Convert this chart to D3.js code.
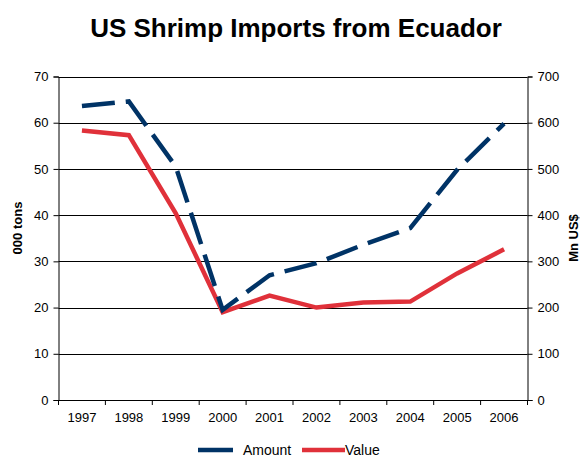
<!DOCTYPE html>
<html>
<head>
<meta charset="utf-8">
<title>US Shrimp Imports from Ecuador</title>
<style>
body { margin: 0; background: #fff; }
svg text { font-family: "Liberation Sans", Arial, sans-serif; fill: #000; }
</style>
</head>
<body>
<svg width="580" height="457"></svg>
<script src="https://d3js.org/d3.v7.min.js"></script>
<script>
var years = ["1997", "1998", "1999", "2000", "2001", "2002", "2003", "2004", "2005", "2006"];
var amount = [63.6, 64.6, 50.5, 19.5, 27.0, 29.6, 33.6, 37.2, 49.8, 59.8];   // 000 tons
var value = [583, 573, 404, 190, 226, 200, 211, 213, 274, 326];            // Mn US$
var leftTicks = [0, 10, 20, 30, 40, 50, 60, 70];
var rightTicks = [0, 100, 200, 300, 400, 500, 600, 700];

var svg = d3.select("svg");
var plotLeft = 58.5, plotRight = 527.5, plotTop = 76.5, plotBottom = 400;

var x = d3.scaleBand().domain(years).range([plotLeft, plotRight]);
var yL = d3.scaleLinear().domain([0, 70]).range([plotBottom, plotTop]);
var yR = d3.scaleLinear().domain([0, 700]).range([plotBottom, plotTop]);

svg.append("text")
    .attr("x", 296).attr("y", 37)
    .attr("text-anchor", "middle")
    .style("font-size", "26px").style("font-weight", "bold")
    .text("US Shrimp Imports from Ecuador");

// gridlines
svg.append("g").selectAll("line")
  .data(leftTicks.slice(1))
  .enter().append("line")
    .attr("x1", plotLeft).attr("x2", plotRight)
    .attr("y1", function(d) { return Math.round(yL(d)) + 0.5; })
    .attr("y2", function(d) { return Math.round(yL(d)) + 0.5; })
    .attr("stroke", "#000").attr("stroke-width", 1);

var axL = svg.append("g")
    .attr("transform", "translate(" + plotLeft + ",0)")
    .call(d3.axisLeft(yL).tickValues(leftTicks).tickSize(5).tickPadding(5));
var axR = svg.append("g")
    .attr("transform", "translate(" + plotRight + ",0)")
    .call(d3.axisRight(yR).tickValues(rightTicks).tickSize(5).tickPadding(5));
var axB = svg.append("g")
    .attr("transform", "translate(0," + plotBottom + ")")
    .call(d3.axisBottom(x).tickSize(0).tickPadding(13));

// band boundary ticks on x axis
axB.selectAll(".bt")
  .data(d3.range(years.length + 1))
  .enter().append("line")
    .attr("x1", function(i) { return plotLeft + i * x.bandwidth(); })
    .attr("x2", function(i) { return plotLeft + i * x.bandwidth(); })
    .attr("y1", 0).attr("y2", 5)
    .attr("stroke", "#000");

[axL, axR, axB].forEach(function(a) {
  a.select(".domain").attr("stroke", "#000");
  a.selectAll("text").style("font-size", "13px").attr("font-family", null);
});
axB.selectAll(".domain").attr("d", "M" + plotLeft + ",0.5H" + plotRight);

svg.append("text")
    .attr("transform", "translate(22,228) rotate(-90)")
    .attr("text-anchor", "middle")
    .style("font-size", "13px").style("font-weight", "bold")
    .text("000 tons");
svg.append("text")
    .attr("transform", "translate(578,238) rotate(-90)")
    .attr("text-anchor", "middle")
    .style("font-size", "13px").style("font-weight", "bold")
    .text("Mn US$");

var cx = function(d, i) { return x(years[i]) + x.bandwidth() / 2; };

svg.append("path")
    .datum(value)
    .attr("fill", "none")
    .attr("stroke", "#e0313a")
    .attr("stroke-width", 4.5)
    .attr("stroke-linejoin", "miter")
    .attr("d", d3.line().x(cx).y(function(d) { return yR(d); }));

svg.append("path")
    .datum(amount)
    .attr("fill", "none")
    .attr("stroke", "#003366")
    .attr("stroke-width", 4.5)
    .attr("stroke-dasharray", "33,11")
    .attr("d", d3.line().x(cx).y(function(d) { return yL(d); }));

// legend
var legend = [
  {name: "Amount", color: "#003366", x1: 198, x2: 233, tx: 243},
  {name: "Value", color: "#e0313a", x1: 302, x2: 345, tx: 345}
];
var lg = svg.append("g").selectAll("g").data(legend).enter().append("g");
lg.append("line")
    .attr("x1", function(d) { return d.x1; })
    .attr("x2", function(d) { return d.x2; })
    .attr("y1", 450).attr("y2", 450)
    .attr("stroke", function(d) { return d.color; })
    .attr("stroke-width", 4.5);
lg.append("text")
    .attr("x", function(d) { return d.tx; })
    .attr("y", 455)
    .style("font-size", "14px")
    .text(function(d) { return d.name; });
</script>
</body>
</html>
